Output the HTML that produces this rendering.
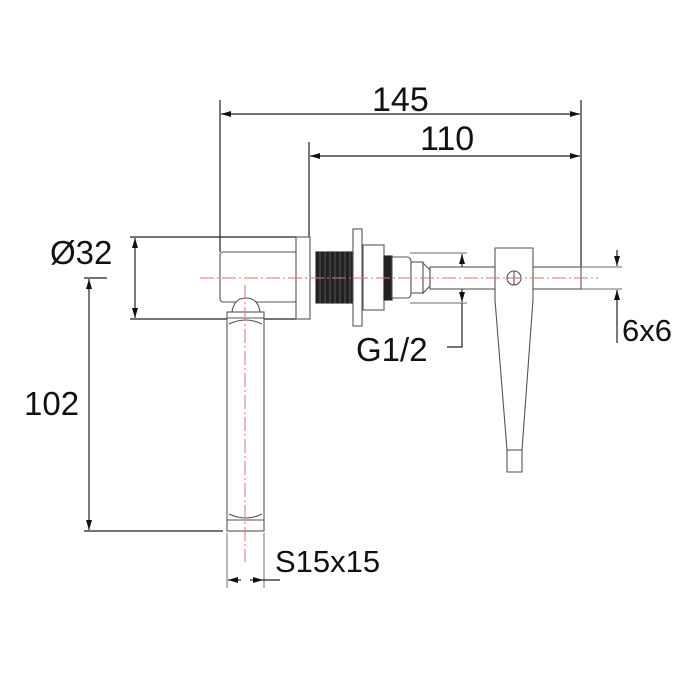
<!DOCTYPE html>
<html><head><meta charset="utf-8"><style>
html,body{margin:0;padding:0;background:#fff;}
svg{display:block;}
text{font-family:"Liberation Sans",sans-serif;fill:#111;}
</style></head><body>
<svg width="700" height="700" viewBox="0 0 700 700" xmlns="http://www.w3.org/2000/svg">
<defs>
<marker id="a" viewBox="0 0 10 6" refX="10" refY="3" markerWidth="10" markerHeight="6" orient="auto-start-reverse" markerUnits="userSpaceOnUse"><path d="M0,0 L10,3 L0,6 z" fill="#111"/></marker>
</defs>
<g stroke="#222" stroke-width="1.2" fill="none">
<!-- 145 -->
<line x1="220" y1="100" x2="220" y2="252"/>
<line x1="581" y1="100" x2="581" y2="267"/>
<line x1="221" y1="114" x2="580" y2="114" marker-start="url(#a)" marker-end="url(#a)"/>
<!-- 110 -->
<line x1="309" y1="142" x2="309" y2="237"/>
<line x1="310" y1="156" x2="580" y2="156" marker-start="url(#a)" marker-end="url(#a)"/>
<!-- Ø32 -->
<line x1="130" y1="237" x2="296" y2="237"/>
<line x1="130" y1="319" x2="296" y2="319"/>
<line x1="135" y1="238" x2="135" y2="318" marker-start="url(#a)" marker-end="url(#a)"/>
<!-- 102 -->
<line x1="84" y1="278" x2="107" y2="278"/>
<line x1="84" y1="531" x2="223" y2="531"/>
<line x1="89" y1="279" x2="89" y2="530" marker-start="url(#a)" marker-end="url(#a)"/>
<!-- S15x15 -->
<line x1="227" y1="533" x2="227" y2="588" stroke="#888"/>
<line x1="264" y1="533" x2="264" y2="588" stroke="#888"/>
<line x1="241" y1="580" x2="228" y2="580" marker-end="url(#a)"/>
<line x1="250" y1="580" x2="263" y2="580" marker-end="url(#a)"/>
<line x1="263" y1="580" x2="280" y2="580"/>
<!-- G1/2 -->
<line x1="410" y1="253" x2="467" y2="253" stroke="#888"/>
<line x1="410" y1="303" x2="467" y2="303" stroke="#888"/>
<line x1="462" y1="268" x2="462" y2="254" marker-end="url(#a)"/>
<line x1="462" y1="288" x2="462" y2="302" marker-end="url(#a)"/>
<polyline points="462,268 462,288"/>
<polyline points="462,303 462,347 447,347"/>
<!-- 6x6 -->
<line x1="581" y1="267" x2="622" y2="267" stroke="#888"/>
<line x1="581" y1="289" x2="622" y2="289" stroke="#888"/>
<line x1="617" y1="250" x2="617" y2="266" marker-end="url(#a)"/>
<line x1="617" y1="343" x2="617" y2="290" marker-end="url(#a)"/>
</g>
<!-- drawing -->
<g stroke="#555" stroke-width="1.1" fill="#fff">
<rect x="220" y="252" width="77" height="50" rx="3"/>
<path d="M232,312 Q234,298 246,298 Q258,298 260,312 Z"/>
<rect x="227" y="312" width="37" height="219"/>
<line x1="227" y1="318" x2="264" y2="318"/>
<line x1="227" y1="520" x2="264" y2="520"/>
<path d="M229,324 Q246,316 262,324" fill="none"/>
<path d="M229,514 Q246,522 262,514" fill="none"/>
<rect x="296" y="237" width="14" height="82"/>
<rect x="316" y="252" width="37" height="51" fill="#222" stroke="#222"/>
<rect x="353" y="229" width="9" height="97"/>
<rect x="363" y="245" width="21" height="65"/>
<rect x="384" y="256" width="8" height="44" fill="#222" stroke="#222"/>
<path d="M392,257 H407 Q411,257 411,262 V293 Q411,298 407,298 H392 Z"/>
<rect x="411" y="262" width="12" height="31"/>
<path d="M423,263 L430,270 V286 L423,293 Z"/>
<rect x="430" y="267" width="151" height="22"/>
<path d="M495,248 H533 V300 L522,450 V472 H507 V450 L495,300 Z"/>
<line x1="507" y1="450" x2="522" y2="450"/>
<circle cx="514" cy="278" r="7"/>
<line x1="514" y1="271" x2="514" y2="285"/>
<line x1="507" y1="278" x2="521" y2="278"/>
</g>
<!-- thread texture -->
<g stroke="#666" stroke-width="0.8">
<line x1="320" y1="252" x2="320" y2="303"/><line x1="325" y1="252" x2="325" y2="303"/>
<line x1="330" y1="252" x2="330" y2="303"/><line x1="335" y1="252" x2="335" y2="303"/>
<line x1="340" y1="252" x2="340" y2="303"/><line x1="345" y1="252" x2="345" y2="303"/>
<line x1="350" y1="252" x2="350" y2="303"/>
</g>
<!-- centerlines -->
<g stroke="#e07070" stroke-width="1" stroke-dasharray="14,3,2,3">
<line x1="200" y1="278" x2="598" y2="278"/>
<line x1="245" y1="285" x2="245" y2="562"/>
</g>
<text x="372" y="111" font-size="34">145</text>
<text x="420" y="150" font-size="34">110</text>
<text x="50" y="264" font-size="33">Ø32</text>
<text x="24" y="415" font-size="33">102</text>
<text x="356" y="361" font-size="33">G1/2</text>
<text x="622" y="341" font-size="31">6x6</text>
<text x="275" y="572" font-size="31">S15x15</text>
</svg>
</body></html>
